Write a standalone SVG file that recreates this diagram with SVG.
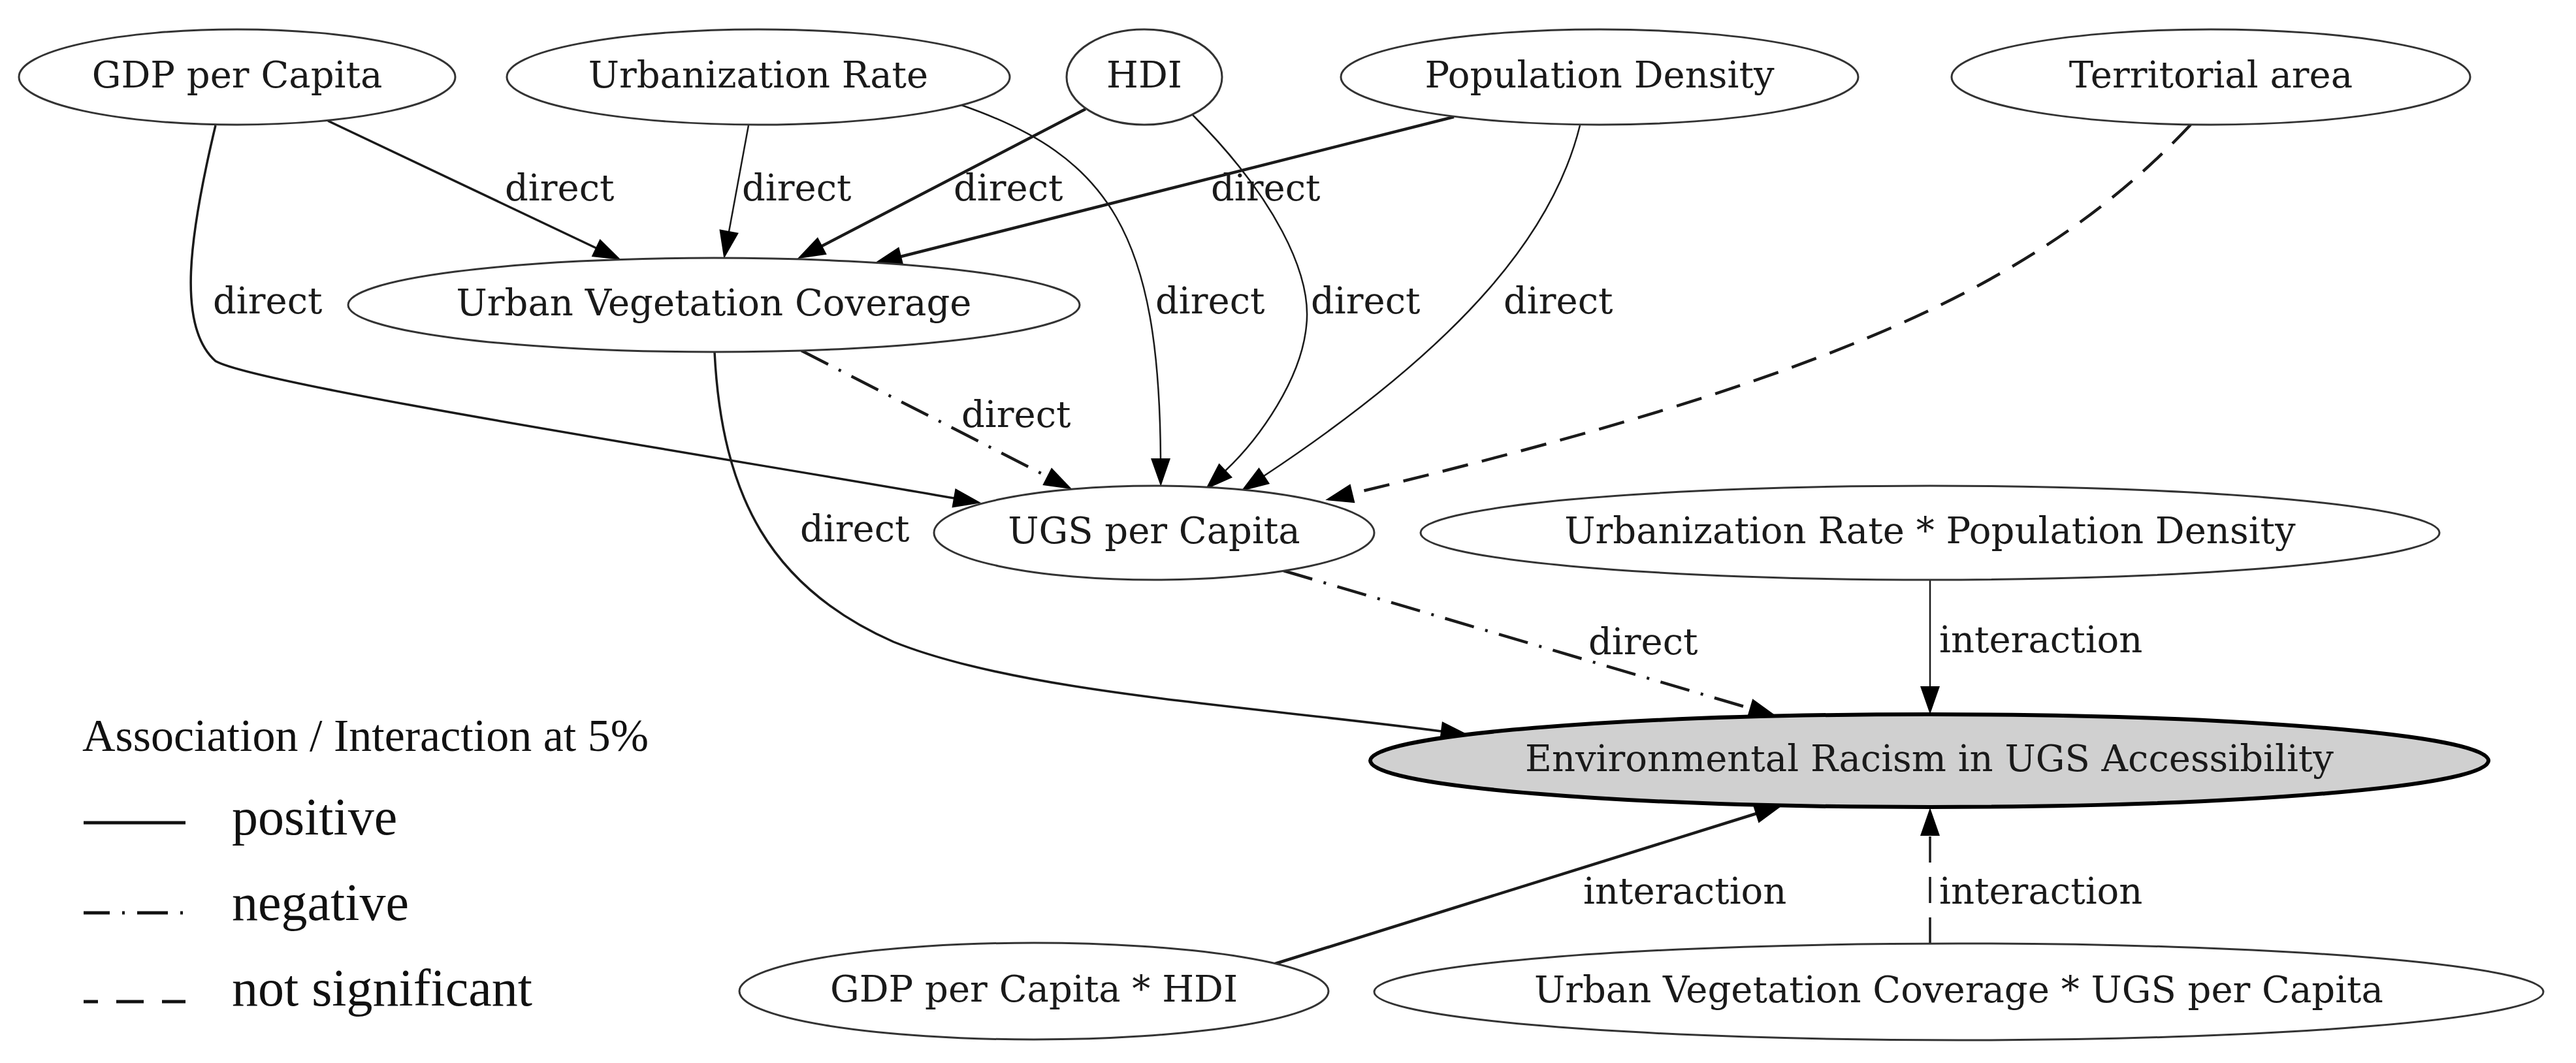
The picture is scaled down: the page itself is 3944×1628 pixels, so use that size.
<svg xmlns="http://www.w3.org/2000/svg" width="3944" height="1628" viewBox="0 0 3944 1628">
<style>
.node ellipse{fill:#ffffff;stroke:#333333;stroke-width:3}
.node text{font-family:"DejaVu Serif",serif;font-size:56px;fill:#1a1a1a;text-anchor:middle}
#env ellipse{fill:#d0d0d0;stroke:#000000;stroke-width:6}
.e{fill:none;stroke:#1a1a1a;marker-end:url(#ah)}
.thin{stroke-width:2.5}
.med{stroke-width:3.5}
.thick{stroke-width:4.5}
.dd{stroke-dasharray:46 18 4 18}
.da{stroke-dasharray:40 22}
.lbl{font-family:"DejaVu Serif",serif;font-size:56px;fill:#1a1a1a}
.leg{font-family:"Liberation Serif",serif;fill:#111111}
</style>
<defs>
<marker id="ah" markerUnits="userSpaceOnUse" markerWidth="46" markerHeight="34" refX="1" refY="17" orient="auto" viewBox="0 0 46 34" overflow="visible">
<path d="M0,2 L43,17 L0,32 z" fill="#000000"/>
</marker>
</defs>
<rect width="3944" height="1628" fill="#ffffff"/>

<g id="connectors">
<path class="e med" d="M502,185 L913,380"/>
<path class="e thin" d="M1146,192 L1116,355"/>
<path class="e thick" d="M1662,167 L1258,377"/>
<path class="e thick" d="M2226,179 L1379,393"/>
<path class="e med" d="M330,192 C290,360 270,500 330,553 C395,590 1100,700 1461,763"/>
<path class="e thin" d="M1472,161 C1700,240 1775,360 1777,703"/>
<path class="e thin" d="M1826,176 C1950,300 2010,420 2000,500 C1992,580 1930,670 1876,721"/>
<path class="e thin" d="M2419,192 C2380,350 2250,520 1935,729"/>
<path class="e thick dd" d="M1227,537 L1604,730"/>
<path class="e med" d="M1094,539 C1105,760 1180,900 1368,983 C1560,1060 1900,1080 2207,1120"/>
<path class="e thick dd" d="M1965,874 L2680,1085"/>
<path class="e thick da" d="M3354,191 C3120,440 2800,580 2070,756"/>
<path class="e thin" d="M2955,888 L2955,1052"/>
<path class="e thick" d="M1952,1476 L2689,1246"/>
<path class="e med da" d="M2955,1445 L2955,1279"/>
<text class="lbl" x="773" y="307">direct</text>
<text class="lbl" x="1136" y="307">direct</text>
<text class="lbl" x="1460" y="307">direct</text>
<text class="lbl" x="1854" y="307">direct</text>
<text class="lbl" x="326" y="480">direct</text>
<text class="lbl" x="1769" y="480">direct</text>
<text class="lbl" x="2007" y="480">direct</text>
<text class="lbl" x="2302" y="480">direct</text>
<text class="lbl" x="1472" y="654">direct</text>
<text class="lbl" x="1225" y="829">direct</text>
<text class="lbl" x="2432" y="1002">direct</text>
<text class="lbl" x="2969" y="999">interaction</text>
<text class="lbl" x="2424" y="1384">interaction</text>
<text class="lbl" x="2969" y="1384">interaction</text>
</g>

<g id="gdp" class="node"><ellipse cx="363" cy="118" rx="334" ry="73"/><text x="363" y="134">GDP per Capita</text></g>
<g id="urb" class="node"><ellipse cx="1161" cy="118" rx="385" ry="73"/><text x="1161" y="134">Urbanization Rate</text></g>
<g id="hdi" class="node"><ellipse cx="1752" cy="118" rx="119" ry="73"/><text x="1752" y="134">HDI</text></g>
<g id="pop" class="node"><ellipse cx="2449" cy="118" rx="396" ry="73"/><text x="2449" y="134">Population Density</text></g>
<g id="terr" class="node"><ellipse cx="3385" cy="118" rx="397" ry="73"/><text x="3385" y="134">Territorial area</text></g>
<g id="uvc" class="node"><ellipse cx="1093" cy="467" rx="560" ry="72"/><text x="1093" y="483">Urban Vegetation Coverage</text></g>
<g id="ugs" class="node"><ellipse cx="1767" cy="816" rx="337" ry="72"/><text x="1767" y="832">UGS per Capita</text></g>
<g id="urbpop" class="node"><ellipse cx="2955" cy="816" rx="780" ry="72"/><text x="2955" y="832">Urbanization Rate * Population Density</text></g>
<g id="env" class="node"><ellipse cx="2954" cy="1165" rx="856" ry="71"/><text x="2954" y="1181">Environmental Racism in UGS Accessibility</text></g>
<g id="gdphdi" class="node"><ellipse cx="1583" cy="1518" rx="451" ry="74"/><text x="1583" y="1534">GDP per Capita * HDI</text></g>
<g id="uvcugs" class="node"><ellipse cx="2999" cy="1519" rx="895" ry="74"/><text x="2999" y="1535">Urban Vegetation Coverage * UGS per Capita</text></g>

<g id="legend">
<text class="leg" x="126" y="1150" font-size="70">Association / Interaction at 5%</text>
<line x1="128" y1="1260" x2="284" y2="1260" stroke="#111111" stroke-width="5"/>
<text class="leg" x="355" y="1278" font-size="80">positive</text>
<line x1="128" y1="1398" x2="284" y2="1398" stroke="#111111" stroke-width="5" stroke-dasharray="47 19 4 19" stroke-dashoffset="7"/>
<text class="leg" x="355" y="1409" font-size="80">negative</text>
<line x1="128" y1="1534" x2="284" y2="1534" stroke="#111111" stroke-width="5" stroke-dasharray="42 28" stroke-dashoffset="20"/>
<text class="leg" x="355" y="1540" font-size="80">not significant</text>
</g>
</svg>
